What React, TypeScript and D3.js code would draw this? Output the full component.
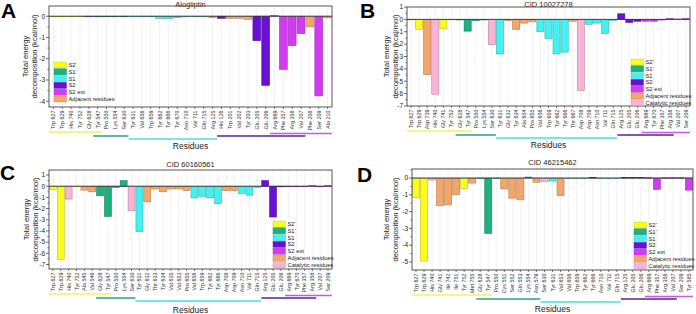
import React from "react";
import * as d3 from "d3";

// binding-site groups
const GROUP_KEYS = ["s2p", "s1p", "s1", "s2", "s2x", "adj", "cat"];
const GROUP_LABELS: Record<string, string> = {
  s2p: "S2\u00b4",
  s1p: "S1\u00b4",
  s1: "S1",
  s2: "S2",
  s2x: "S2 ext",
  adj: "Adjacent residues",
  cat: "Catalytic residues",
};
const GROUP_FILL: Record<string, string> = {
  s2p: "#fbfb1e",
  s1p: "#1fb07f",
  s1: "#45f0f0",
  s2: "#6910d4",
  s2x: "#d23cf0",
  adj: "#f3a66b",
  cat: "#f8b4d6",
};
const GROUP_LINE: Record<string, string> = {
  s2p: "#f2f25c",
  s1p: "#2c9e87",
  s1: "#44e0e0",
  s2: "#5a2290",
  s2x: "#c75ae0",
};

// ---- Alogliptin ----
const residuesA = [
  "Trp 627", "Trp 629", "His 740", "Tyr 752", "Gly 628", "Tyr 547", "Pro 550", "Lys 554",
  "Ser 630", "Tyr 631", "Val 656", "Trp 659", "Tyr 662", "Tyr 666", "Tyr 670", "Asn 710",
  "Val 711", "Gln 715", "Arg 125", "His 126", "Trp 201", "Val 202", "Tyr 203", "Glu 205",
  "Glu 206", "Arg 669", "Phe 357", "Arg 358", "Val 207", "Phe 208", "Ser 209", "Ala 210",
];
const valuesA = [
  0, 0, 0, 0, 0, 0, -0.02, -0.02,
  0, 0, 0, 0, -0.1, -0.12, -0.06, -0.03,
  0, 0, -0.07, -0.1, -0.1, -0.1, -0.15, -1.15,
  -3.25, 0.03, -2.5, -1.38, -0.82, -0.5, -3.75, -0.08,
];
const groupsA = [
  "s2p", "s2p", "s2p", "s2p", "s1p", "s1p", "s1p", "s1p",
  "s1p", "s1", "s1", "s1", "s1", "s1", "s1", "s1",
  "s1", "s1", "adj", "s2", "adj", "adj", "adj", "s2",
  "s2", "s2x", "s2x", "s2x", "s2x", "adj", "s2x", "adj",
];
const spansA = [
  ["s2p", "Trp 627", "Tyr 547"],
  ["s1p", "Tyr 547", "Ser 630"],
  ["s1", "Tyr 631", "Arg 125"],
  ["s2", "His 126", "Val 207"],
  ["s2x", "Arg 669", "Ala 210"],
];

// ---- CID 10027278 ----
const residuesB = [
  "Trp 627", "Trp 629", "Asp 739", "His 740", "Gly 741", "Tyr 752", "Gly 628", "Tyr 547",
  "Pro 550", "Lys 554", "Ser 630", "Tyr 631", "Gly 632", "Tyr 634", "Ala 654", "Pro 655",
  "Val 656", "Trp 659", "Tyr 662", "Tyr 666", "Thr 667", "Asp 708", "Asp 709", "Asn 710",
  "Val 711", "Gln 715", "Arg 125", "Glu 205", "Glu 206", "Arg 669", "Tyr 670", "Phe 357",
  "Arg 358", "Val 207", "Ser 209",
];
const valuesB = [
  0, -0.8, -4.45, -6.05, -0.75, 0, -0.02, -0.95,
  -0.1, 0, -2.05, -2.8, -0.1, -0.8, -0.3, -0.2,
  -1.0, -1.55, -2.8, -2.65, -0.15, -5.75, -0.4, -0.3,
  -1.15, -0.1, 0.45, -0.25, -0.15, -0.15, -0.15, -0.05,
  0.07, 0.03, 0.07,
];
const groupsB = [
  "s2p", "s2p", "adj", "cat", "s2p", "s2p", "s1p", "s1p",
  "s1p", "s1p", "cat", "s1", "adj", "adj", "adj", "adj",
  "s1", "s1", "s1", "s1", "adj", "cat", "s1", "s1",
  "s1", "s1", "s2", "s2", "s2", "s2x", "s2x", "s2x",
  "s2x", "s2x", "s2x",
];
const spansB = [
  ["s2p", "Trp 627", "Tyr 547"],
  ["s1p", "Gly 628", "Ser 630"],
  ["s1", "Tyr 631", "Gln 715"],
  ["s2", "Arg 125", "Arg 358"],
  ["s2x", "Arg 669", "Ser 209"],
];

// ---- CID 60160561 ----
const residuesC = [
  "Trp 627", "Trp 629", "His 740", "Tyr 752", "Ala 545", "Val 546", "Gly 628", "Tyr 547",
  "Pro 550", "Lys 554", "Ser 630", "Tyr 631", "Gly 632", "Thr 633", "Tyr 634", "Val 635",
  "Val 653", "Pro 655", "Val 656", "Trp 659", "Tyr 662", "Tyr 666", "Asp 708", "Asp 709",
  "Asn 710", "Val 711", "Gln 715", "Arg 125", "Glu 205", "Glu 206", "Arg 669", "Tyr 670",
  "Phe 357", "Arg 358", "Val 207", "Ser 209",
];
const valuesC = [
  -0.3, -6.55, -1.15, 0, -0.35, -0.5, -0.85, -2.7,
  -0.1, 0.5, -2.2, -4.05, -1.4, -0.25, -0.5, -0.25,
  -0.25, -0.4, -1.05, -0.9, -1.05, -1.55, -0.4, -0.4,
  -0.65, -0.8, -0.1, 0.5, -2.75, 0, 0, -0.05,
  -0.05, 0.05, 0, 0.05,
];
const groupsC = [
  "s2p", "s2p", "cat", "s2p", "adj", "adj", "s1p", "s1p",
  "s1p", "s1p", "cat", "s1", "adj", "adj", "adj", "adj",
  "adj", "adj", "s1", "s1", "s1", "s1", "adj", "adj",
  "s1", "s1", "s1", "s2", "s2", "s2", "s2x", "s2x",
  "s2x", "s2x", "s2x", "s2x",
];
const spansC = [
  ["s2p", "Trp 627", "Tyr 547"],
  ["s1p", "Gly 628", "Ser 630"],
  ["s1", "Tyr 631", "Gln 715"],
  ["s2", "Arg 125", "Arg 358"],
  ["s2x", "Arg 669", "Ser 209"],
];

// ---- CID 46215462 ----
const residuesD = [
  "Trp 627", "Trp 629", "His 740", "Gly 741", "Ile 742", "Ile 751", "Tyr 752", "Met 755",
  "Gly 628", "Tyr 547", "Pro 550", "Cys 551", "Ser 552", "Gln 553", "Lys 554", "Asn 579",
  "Ser 630", "Tyr 631", "Val 653", "Val 656", "Trp 659", "Tyr 662", "Tyr 666", "Asn 710",
  "Val 711", "Gln 715", "Arg 125", "Glu 205", "Glu 206", "Arg 669", "Phe 357", "Arg 358",
  "Val 207", "Ser 209", "Tyr 585",
];
const valuesD = [
  -1.15, -4.95, -0.12, -1.65, -1.6, -0.98, -0.62, -0.3,
  0, -3.3, -0.02, -0.65, -1.2, -1.3, 0.06, -0.25,
  -0.22, -0.18, -1.05, 0, 0, 0, 0.04, 0,
  0, 0, 0.04, 0.04, 0.04, 0.02, -0.68, 0.02,
  0.02, 0.02, -0.72,
];
const groupsD = [
  "s2p", "s2p", "cat", "adj", "adj", "adj", "s2p", "adj",
  "s1p", "s1p", "s1p", "adj", "adj", "adj", "s1p", "adj",
  "cat", "s1", "adj", "s1", "s1", "s1", "s2", "s1",
  "s1", "s1", "s2", "s2", "s2", "s2x", "s2x", "s2x",
  "s2x", "s2x", "s2x",
];
const spansD = [
  ["s2p", "Trp 627", "Tyr 547"],
  ["s1p", "Gly 628", "Asn 579"],
  ["s1", "Ser 630", "Gln 715"],
  ["s2", "Arg 125", "Val 207"],
  ["s2x", "Arg 669", "Tyr 585"],
];

// vertical offset of each group's underline below the plot frame
const SPAN_OFFSET: Record<string, number> = { s2p: 25, s2x: 26.5, s1p: 29, s2: 29, s1: 32 };

type PanelProps = {
  letter: string;
  title: string;
  residues: string[];
  values: number[];
  groups: string[];
  spans: string[][];
  legendKeys: string[];
  left: number;
  right: number;
  top: number;
  bottom: number;
  domain: [number, number];
  ticks: number[];
  letterPos: [number, number];
  titleY: number;
  yLabelX: number;
  residuesY: number;
  legendPos: [number, number];
};

const FONT = "Liberation Sans, Arial, sans-serif";

function Panel(p: PanelProps) {
  const x = d3
    .scaleBand<string>()
    .domain(p.residues)
    .range([p.left, p.right])
    .paddingInner(0.12)
    .paddingOuter(0.06);
  const y = d3.scaleLinear().domain(p.domain).range([p.bottom, p.top]);
  const bw = x.bandwidth();
  const step = x.step();
  const cx = (r: string) => (x(r) as number) + bw / 2;
  const midX = (p.left + p.right) / 2;
  const midY = (p.top + p.bottom) / 2;
  const minor = d3.range(Math.ceil(p.domain[0] * 2) / 2, p.domain[1], 0.5).filter((v) => !p.ticks.includes(v));

  return (
    <g fontFamily={FONT}>
      <text x={p.letterPos[0]} y={p.letterPos[1]} fontSize={21} fontWeight="bold" fill="#000">
        {p.letter}
      </text>
      <text x={midX} y={p.titleY} fontSize={7.5} textAnchor="middle" fill="#222">
        {p.title}
      </text>

      {/* dotted grid per residue */}
      {p.residues.map((r) => (
        <line key={"g" + r} x1={cx(r)} x2={cx(r)} y1={p.top} y2={p.bottom} stroke="#d4d4d4" strokeWidth={0.6} strokeDasharray="1,1" />
      ))}

      {/* bars */}
      {p.residues.map((r, i) => {
        const v = p.values[i];
        const c = GROUP_FILL[p.groups[i]];
        const y0 = y(0);
        const y1 = y(v);
        return (
          <rect
            key={"b" + r}
            x={x(r)}
            y={Math.min(y0, y1)}
            width={bw}
            height={Math.max(Math.abs(y1 - y0), 0.6)}
            fill={c}
            stroke={d3.color(c)!.darker(0.8).formatHex()}
            strokeWidth={0.6}
          />
        );
      })}

      {/* zero line */}
      <line x1={p.left} x2={p.right} y1={y(0)} y2={y(0)} stroke="#333" strokeWidth={0.9} />

      {/* frame */}
      <rect x={p.left} y={p.top} width={p.right - p.left} height={p.bottom - p.top} fill="none" stroke="#444" strokeWidth={0.9} />

      {/* y axis */}
      {p.ticks.map((t) => (
        <g key={"t" + t}>
          <line x1={p.left - 3} x2={p.left} y1={y(t)} y2={y(t)} stroke="#444" strokeWidth={0.8} />
          <text x={p.left - 4} y={y(t) + 2.3} fontSize={6.5} textAnchor="end" fill="#222">
            {String(t)}
          </text>
        </g>
      ))}
      {minor.map((t) => (
        <line key={"m" + t} x1={p.left - 1.6} x2={p.left} y1={y(t)} y2={y(t)} stroke="#444" strokeWidth={0.7} />
      ))}
      <text transform={`translate(${p.yLabelX},${midY}) rotate(-90)`} fontSize={7.6} textAnchor="middle" fill="#222">
        <tspan x={0} dy={0}>Total energy</tspan>
        <tspan x={0} dy={8.5}>decomposition (kcal/mol)</tspan>
      </text>

      {/* x axis ticks and labels */}
      {p.residues.map((r) => (
        <g key={"x" + r}>
          <line x1={cx(r)} x2={cx(r)} y1={p.bottom} y2={p.bottom + 2} stroke="#444" strokeWidth={0.7} />
          <text transform={`translate(${cx(r) + 2},${p.bottom + 3.5}) rotate(-90)`} fontSize={5.4} textAnchor="end" fill="#333">
            {r}
          </text>
        </g>
      ))}

      {/* group underlines */}
      {p.spans.map(([g, a, b]) => (
        <line
          key={"s" + g}
          x1={(x(a) as number) - step * 0.05}
          x2={(x(b) as number) + bw + step * 0.05}
          y1={p.bottom + SPAN_OFFSET[g]}
          y2={p.bottom + SPAN_OFFSET[g]}
          stroke={GROUP_LINE[g]}
          strokeWidth={1.6}
        />
      ))}
      <text x={midX} y={p.residuesY} fontSize={8.5} textAnchor="middle" fill="#222">
        Residues
      </text>

      {/* legend */}
      {p.legendKeys.map((k, i) => {
        const ly = p.legendPos[1] + i * 6.8;
        return (
          <g key={"l" + k}>
            <rect x={p.legendPos[0]} y={ly - 3} width={12.5} height={6} fill={GROUP_FILL[k]} stroke={d3.color(GROUP_FILL[k])!.darker(0.6).formatHex()} strokeWidth={0.4} />
            <text x={p.legendPos[0] + 14.5} y={ly + 2} fontSize={5.8} fill="#222">
              {GROUP_LABELS[k]}
            </text>
          </g>
        );
      })}
    </g>
  );
}

export default function App() {
  const six = GROUP_KEYS.slice(0, 6);
  return (
    <svg width={696} height={314} style={{ position: "absolute", left: 0, top: 0, background: "#fff" }}>
      <Panel
        letter="A"
        title="Alogliptin"
        residues={residuesA}
        values={valuesA}
        groups={groupsA}
        spans={spansA}
        legendKeys={six}
        left={49}
        right={332}
        top={6}
        bottom={107}
        domain={[-4.27, 0.48]}
        ticks={[0, -1, -2, -3, -4]}
        letterPos={[1, 18]}
        titleY={6.5}
        yLabelX={28}
        residuesY={149}
        legendPos={[54, 65]}
      />
      <Panel
        letter="B"
        title="CID 10027278"
        residues={residuesB}
        values={valuesB}
        groups={groupsB}
        spans={spansB}
        legendKeys={GROUP_KEYS}
        left={407}
        right={690}
        top={7}
        bottom={106}
        domain={[-7, 1]}
        ticks={[1, 0, -1, -2, -3, -4, -5, -6, -7]}
        letterPos={[360, 18]}
        titleY={6.5}
        yLabelX={389}
        residuesY={148}
        legendPos={[631, 62]}
      />
      <Panel
        letter="C"
        title="CID 60160561"
        residues={residuesC}
        values={valuesC}
        groups={groupsC}
        spans={spansC}
        legendKeys={GROUP_KEYS}
        left={49}
        right={332}
        top={170}
        bottom={269}
        domain={[-7.4, 1.45]}
        ticks={[1, 0, -1, -2, -3, -4, -5, -6, -7]}
        letterPos={[0, 180]}
        titleY={167}
        yLabelX={29}
        residuesY={313}
        legendPos={[273, 224]}
      />
      <Panel
        letter="D"
        title="CID 46215462"
        residues={residuesD}
        values={valuesD}
        groups={groupsD}
        spans={spansD}
        legendKeys={GROUP_KEYS}
        left={412}
        right={693}
        top={169}
        bottom={270}
        domain={[-5.48, 0.54]}
        ticks={[0, -1, -2, -3, -4, -5]}
        letterPos={[357, 182]}
        titleY={165}
        yLabelX={389}
        residuesY={312}
        legendPos={[634, 225]}
      />
    </svg>
  );
}
